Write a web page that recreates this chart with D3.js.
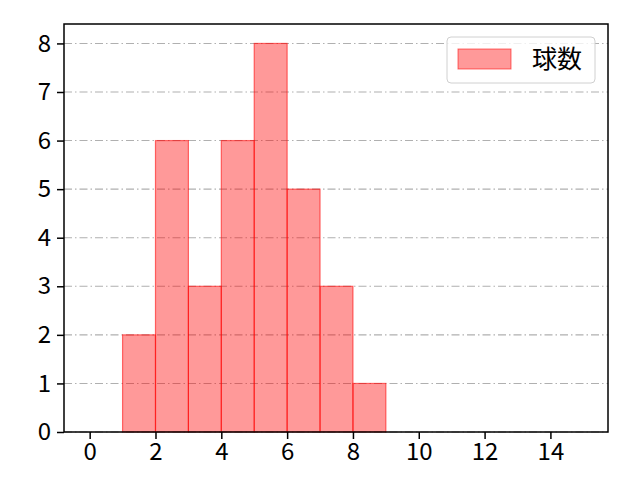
<!DOCTYPE html>
<html>
<head>
<meta charset="utf-8">
<script src="https://cdn.jsdelivr.net/npm/d3@7"></script>
<style>
  body { margin: 0; background: #fff; }
  svg text { font-family: "Noto Sans CJK JP", "Noto Sans", sans-serif; fill: #000; }
</style>
</head>
<body>
<div id="chart"></div>
<script>
// histogram bins (left edge, right edge) and counts
const binStarts = [1, 2, 3, 4, 5, 6, 7, 8];
const binEnds   = [2, 3, 4, 5, 6, 7, 8, 9];
const counts    = [2, 6, 3, 6, 8, 5, 3, 1];
const xTicks = [0, 2, 4, 6, 8, 10, 12, 14];
const yTicks = [0, 1, 2, 3, 4, 5, 6, 7, 8];
const seriesName = "球数";

const width = 640, height = 480;
const marginLeft = 64, marginRight = 32, marginTop = 24, marginBottom = 48;

const x = d3.scaleLinear()
    .domain([-0.78, 15.75])
    .range([marginLeft, width - marginRight]);
const y = d3.scaleLinear()
    .domain([0, 8.4])
    .range([height - marginBottom, marginTop]);

const svg = d3.select("#chart").append("svg")
    .attr("width", width)
    .attr("height", height)
    .attr("viewBox", [0, 0, width, height]);

// grid lines (dash-dot)
svg.append("g")
    .attr("class", "grid")
  .selectAll("line")
  .data(yTicks)
  .join("line")
    .attr("x1", marginLeft)
    .attr("x2", width - marginRight)
    .attr("y1", d => y(d))
    .attr("y2", d => y(d))
    .attr("stroke", "#b0b0b0")
    .attr("stroke-width", 1.1)
    .attr("stroke-dasharray", "8,3,1.5,3");

// bars
const bins = binStarts.map((s, i) => ({x0: s, x1: binEnds[i], n: counts[i]}));
svg.append("g")
    .attr("class", "bars")
  .selectAll("rect")
  .data(bins)
  .join("rect")
    .attr("x", d => x(d.x0))
    .attr("y", d => y(d.n))
    .attr("width", d => x(d.x1) - x(d.x0))
    .attr("height", d => y(0) - y(d.n))
    .attr("fill", "rgba(255,0,0,0.4)")
    .attr("stroke", "rgba(255,0,0,0.55)")
    .attr("stroke-width", 1.2);

// axes
const xAxis = svg.append("g")
    .attr("transform", `translate(0, ${height - marginBottom})`)
    .call(d3.axisBottom(x).tickValues(xTicks).tickSize(7).tickPadding(4));
const yAxis = svg.append("g")
    .attr("transform", `translate(${marginLeft}, 0)`)
    .call(d3.axisLeft(y).tickValues(yTicks).tickSize(7).tickPadding(6));
[xAxis, yAxis].forEach(a => {
    a.select(".domain").remove();
    a.selectAll("line").attr("stroke", "#000").attr("stroke-width", 1.5);
    a.selectAll("text").attr("font-size", 24).attr("font-family", null);
});

// frame
svg.append("rect")
    .attr("x", marginLeft)
    .attr("y", marginTop)
    .attr("width", width - marginLeft - marginRight)
    .attr("height", height - marginTop - marginBottom)
    .attr("fill", "none")
    .attr("stroke", "#000")
    .attr("stroke-width", 1.5);

// legend
const legend = svg.append("g").attr("transform", "translate(447, 37)");
legend.append("rect")
    .attr("width", 148).attr("height", 46).attr("rx", 4)
    .attr("fill", "rgba(255,255,255,0.8)")
    .attr("stroke", "#d0d0d0");
legend.append("rect")
    .attr("x", 11).attr("y", 12).attr("width", 53).attr("height", 20)
    .attr("fill", "rgba(255,0,0,0.4)")
    .attr("stroke", "rgba(255,0,0,0.55)");
legend.append("text")
    .attr("x", 85).attr("y", 22).attr("dy", "0.35em")
    .attr("font-size", 25)
    .text(seriesName);
</script>
</body>
</html>
